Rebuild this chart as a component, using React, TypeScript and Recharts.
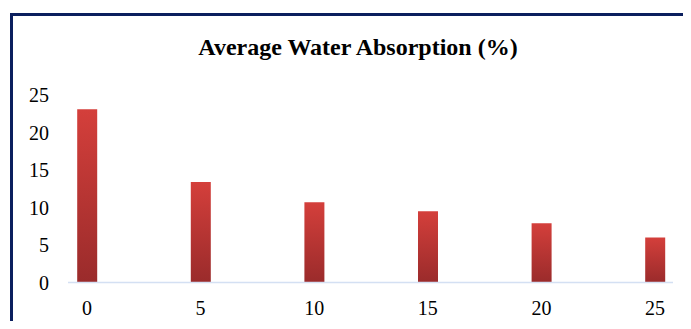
import React from 'react';
import { Bar, BarChart, XAxis, YAxis } from 'recharts';

// soaking time categories and absorption values
const times = [0, 5, 10, 15, 20, 25];
const absorption = [23.1, 13.4, 10.7, 9.5, 7.9, 6.0];
const yTicks = [0, 5, 10, 15, 20, 25];

const data = times.map((t, i) => ({ time: t, value: absorption[i] }));

const font = '"Liberation Serif", "Times New Roman", serif';

const App = () => {
  return (
    <div style={{ position: 'relative', width: 691, height: 329, margin: -8, fontFamily: font }}>
      {/* box edge, only top and left visible in the crop */}
      <div
        style={{
          position: 'absolute',
          left: 10,
          top: 13,
          width: 690,
          height: 330,
          borderTop: '3px solid #0b1f5e',
          borderLeft: '3px solid #0b1f5e',
          boxSizing: 'border-box',
        }}
      />
      <div
        style={{
          position: 'absolute',
          left: 0,
          width: 716,
          top: 35,
          textAlign: 'center',
          fontWeight: 'bold',
          fontSize: 24,
          lineHeight: '24px',
          color: '#000',
        }}
      >
        Average Water Absorption (%)
      </div>
      <div style={{ position: 'absolute', left: 0, top: 0 }}>
        <BarChart
          width={691}
          height={329}
          data={data}
          margin={{ top: 95, right: 18, bottom: 5.5, left: 0 }}
        >
          <defs>
            <linearGradient id="barFill" x1="0" y1="0" x2="0" y2="1">
              <stop offset="0%" stopColor="#d43f3b" />
              <stop offset="100%" stopColor="#9a2b2b" />
            </linearGradient>
          </defs>
          <XAxis
            dataKey="time"
            type="number"
            domain={[0, 25]}
            ticks={times}
            padding={{ left: 19, right: 18 }}
            height={41}
            tickLine={false}
            tickSize={0}
            tickMargin={18}
            axisLine={{ stroke: '#d4e0f3', strokeWidth: 1.5 }}
            tick={{ fill: '#000', fontSize: 20, fontFamily: font }}
          />
          <YAxis
            domain={[0, 25]}
            ticks={yTicks}
            width={68}
            axisLine={false}
            tickLine={false}
            tickSize={0}
            tickMargin={19}
            tick={{ fill: '#000', fontSize: 20, fontFamily: font }}
          />
          <Bar dataKey="value" fill="url(#barFill)" barSize={20} isAnimationActive={false} />
        </BarChart>
      </div>
    </div>
  );
};

export default App;
